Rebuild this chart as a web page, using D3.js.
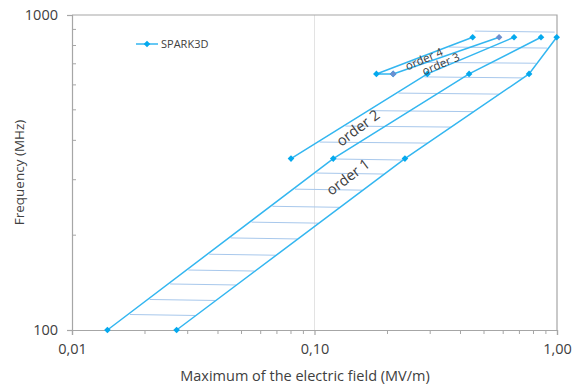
<!DOCTYPE html>
<html>
<head>
<meta charset="utf-8">
<script src="https://d3js.org/d3.v7.min.js"></script>
<style>
  body { margin: 0; background: #fff; }
  svg text { font-family: 'Open Sans', sans-serif; fill: #404040; }
</style>
</head>
<body>
<script>
// boundary polylines: [field (MV/m), frequency (MHz)]
var lineA = [[0.027, 100], [0.236, 350], [0.767, 650], [0.997, 850]];
var lineB = [[0.014, 100], [0.1195, 350], [0.434, 650], [0.859, 850]];
var lineC = [[0.08, 350], [0.292, 650], [0.665, 850]];
var lineD = [[0.211, 650], [0.18, 650], [0.449, 850]];
var lineE = [[0.211, 650], [0.577, 850]];
var seriesName = 'SPARK3D';

// hatch rows (MHz)
var hatchFreqs = [112, 125, 140, 155, 174, 196, 220, 247, 280, 315, 349,
                  395, 444, 497, 565, 636, 708, 791, 889];

var xTicks = [0.01, 0.1, 1];
var xTickLabels = ['0,01', '0,10', '1,00'];
var yTicks = [100, 1000];
var yMinor = [200, 300, 400, 500, 600, 700, 800, 900];
var xMinor = [0.02, 0.03, 0.04, 0.05, 0.06, 0.07, 0.08, 0.09,
              0.2, 0.3, 0.4, 0.5, 0.6, 0.7, 0.8, 0.9];

var W = 575, H = 386;
var pL = 72, pR = 557, pT = 15, pB = 330;
var lineCol = '#33b6f0', markCol = '#04a9ee', darkMark = '#6b8fd0', hatchCol = '#a8c8ec';
var axisCol = '#a6a6a6';

var x = d3.scaleLog().domain([0.01, 1]).range([pL, pR]);
var y = d3.scaleLog().domain([100, 1000]).range([pB, pT]);

var svg = d3.select('body').append('svg').attr('width', W).attr('height', H);

// gridline at 0.10
svg.append('line')
  .attr('x1', x(0.1)).attr('x2', x(0.1)).attr('y1', pT).attr('y2', pB)
  .attr('stroke', '#e3e3e3').attr('stroke-width', 1);

// plot border top / right
svg.append('path')
  .attr('d', 'M' + pL + ',' + pT + 'H' + pR + 'V' + pB)
  .attr('fill', 'none').attr('stroke', axisCol).attr('stroke-width', 1.2);

// axes
var xAxis = d3.axisBottom(x).tickValues(xTicks).tickSize(5).tickFormat(function (d, i) { return xTickLabels[i]; });
var gx = svg.append('g').attr('transform', 'translate(0,' + pB + ')').call(xAxis);
gx.selectAll('.tick text').attr('y', 14).attr('dy', '0.71em').style('font-size', '14.5px').style('fill', '#404040');
gx.append('g').selectAll('line').data(xMinor).enter().append('line')
  .attr('x1', function (d) { return x(d); }).attr('x2', function (d) { return x(d); })
  .attr('y1', 0).attr('y2', 4).attr('stroke', axisCol);

var yAxis = d3.axisLeft(y).tickValues(yTicks).tickSize(5).tickFormat(d3.format('d'));
var gy = svg.append('g').attr('transform', 'translate(' + pL + ',0)').call(yAxis);
gy.selectAll('.tick text').attr('x', -14).style('font-size', '14.5px').style('fill', '#404040');
gy.append('g').selectAll('line').data(yMinor).enter().append('line')
  .attr('y1', function (d) { return y(d); }).attr('y2', function (d) { return y(d); })
  .attr('x1', 0).attr('x2', 4).attr('stroke', axisCol);

svg.selectAll('.domain, .tick line').attr('stroke', axisCol).attr('stroke-width', 1.2);

// axis titles
svg.append('text').attr('x', 305).attr('y', 381)
  .attr('text-anchor', 'middle').style('font-size', '14.5px')
  .text('Maximum of the electric field (MV/m)');
svg.append('text').attr('transform', 'translate(24,' + ((pT + pB) / 2) + ') rotate(-90)')
  .attr('text-anchor', 'middle').style('font-size', '13.5px')
  .text('Frequency  (MHz)');

// hatch: horizontal rows spanning the outermost boundaries
var bounds = [lineA, lineB, lineC, lineD, lineE];
var fTop = d3.max(bounds, function (l) { return d3.max(l, function (p) { return p[1]; }); });
function xAt(line, f) {
  for (var i = 0; i < line.length - 1; i++) {
    var p = line[i], q = line[i + 1];
    if (p[1] === q[1]) continue;
    if (f >= p[1] && f <= q[1]) {
      var t = (Math.log(f) - Math.log(p[1])) / (Math.log(q[1]) - Math.log(p[1]));
      return Math.exp(Math.log(p[0]) + t * (Math.log(q[0]) - Math.log(p[0])));
    }
  }
  return null;
}
var hatch = hatchFreqs.map(function (f) {
  var fe = Math.min(f, fTop);
  var xs = bounds.map(function (l) { return xAt(l, fe); }).filter(function (v) { return v !== null; });
  return { f: f, x1: d3.min(xs), x2: d3.max(xs) };
});
svg.append('g').selectAll('line').data(hatch).enter().append('line')
  .attr('x1', function (d) { return x(d.x1) + 2; })
  .attr('x2', function (d) { return x(d.x2) - 2; })
  .attr('y1', function (d) { return y(d.f); })
  .attr('y2', function (d) { return y(d.f) + 1; })
  .attr('stroke', hatchCol).attr('stroke-width', 1);

// boundary lines
var path = d3.line().x(function (d) { return x(d[0]); }).y(function (d) { return y(d[1]); });
svg.append('g').selectAll('path').data(bounds).enter().append('path')
  .attr('d', path).attr('fill', 'none').attr('stroke', lineCol).attr('stroke-width', 1.5);

// markers
var diamond = d3.symbol().type(d3.symbolSquare).size(22);
[lineA, lineB, lineC, lineD].forEach(function (l) {
  svg.append('g').selectAll('path').data(l).enter().append('path')
    .attr('d', diamond)
    .attr('transform', function (d) { return 'translate(' + x(d[0]) + ',' + y(d[1]) + ') rotate(45)'; })
    .attr('fill', markCol);
});
svg.append('g').selectAll('path').data(lineE).enter().append('path')
  .attr('d', diamond)
  .attr('transform', function (d) { return 'translate(' + x(d[0]) + ',' + y(d[1]) + ') rotate(45)'; })
  .attr('fill', darkMark);

// order labels
var labels = [
  { t: 'order 1', xv: 0.1374, f: 306, a: -37, s: 14.5 },
  { t: 'order 2', xv: 0.151, f: 438, a: -37, s: 14.5 },
  { t: 'order 4', xv: 0.283, f: 725, a: -23, s: 11.5 },
  { t: 'order 3', xv: 0.332, f: 699, a: -23, s: 11.5 }
];
svg.append('g').selectAll('text').data(labels).enter().append('text')
  .attr('transform', function (d) { return 'translate(' + x(d.xv) + ',' + y(d.f) + ') rotate(' + d.a + ')'; })
  .attr('text-anchor', 'middle').attr('dy', '0.35em')
  .style('font-size', function (d) { return d.s + 'px'; })
  .text(function (d) { return d.t; });

// legend
var lg = svg.append('g').attr('transform', 'translate(136,44)');
lg.append('line').attr('x1', 0).attr('x2', 22).attr('stroke', lineCol).attr('stroke-width', 1.5);
lg.append('path').attr('d', diamond).attr('transform', 'translate(11,0) rotate(45)').attr('fill', markCol);
lg.append('text').attr('x', 25).attr('dy', '0.35em').style('font-size', '11px').text(seriesName);
</script>
</body>
</html>
